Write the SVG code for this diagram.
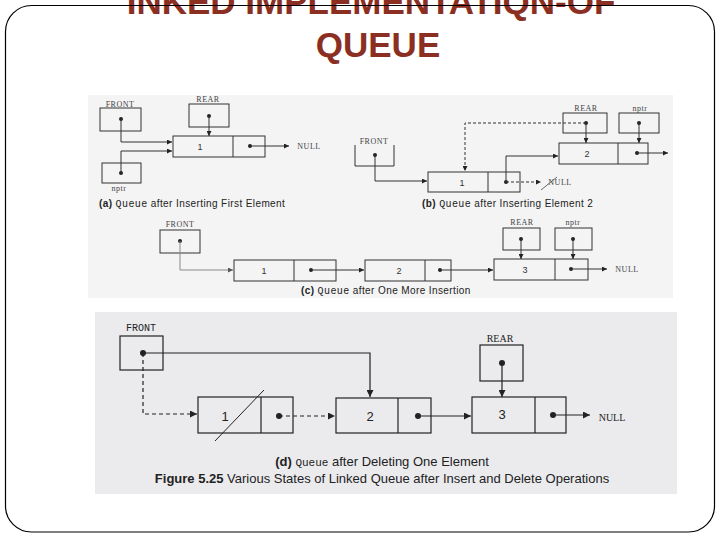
<svg xmlns="http://www.w3.org/2000/svg" width="720" height="540" viewBox="0 0 720 540">
<defs>
<marker id="ah" viewBox="0 0 10 10" refX="10" refY="5" markerWidth="6" markerHeight="5" markerUnits="userSpaceOnUse" orient="auto"><path d="M0,0 L10,5 L0,10 z" fill="#222"/></marker>
<marker id="ahg" viewBox="0 0 10 10" refX="10" refY="5" markerWidth="6" markerHeight="5" markerUnits="userSpaceOnUse" orient="auto"><path d="M0,0 L10,5 L0,10 z" fill="#555"/></marker>
<marker id="ahb" viewBox="0 0 10 10" refX="10" refY="5" markerWidth="8" markerHeight="7" markerUnits="userSpaceOnUse" orient="auto"><path d="M0,0 L10,5 L0,10 z" fill="#222"/></marker>
</defs>
<style>
.title{font-family:"Liberation Sans",Arial,sans-serif;font-weight:bold;font-size:35px;fill:#8B2F23;text-anchor:middle}
.box{fill:none;stroke:#333;stroke-width:1}
.boxd{fill:none;stroke:#222;stroke-width:1.2}
.ln{fill:none;stroke:#333;stroke-width:1;marker-end:url(#ah)}
.lnd{fill:none;stroke:#333;stroke-width:1;stroke-dasharray:3,2;marker-end:url(#ah)}
.lnb{fill:none;stroke:#222;stroke-width:1.2;marker-end:url(#ahb)}
.lnbd{fill:none;stroke:#222;stroke-width:1.2;stroke-dasharray:4,3;marker-end:url(#ahb)}
.dot{fill:#222}
.lbl{font-family:"Liberation Serif",serif;font-size:8px;fill:#444;text-anchor:middle;letter-spacing:0.5px}
.num{font-family:"Liberation Sans",Arial,sans-serif;font-size:9px;fill:#333;text-anchor:middle}
.numd{font-family:"Liberation Sans",Arial,sans-serif;font-size:13px;fill:#222;text-anchor:middle}
.lbld{font-family:"Liberation Mono",monospace;font-size:10px;fill:#222;text-anchor:middle}
.lbls{font-family:"Liberation Serif",serif;font-size:10px;fill:#222;text-anchor:middle}
.cap{font-family:"Liberation Sans",Arial,sans-serif;font-size:10px;fill:#222;letter-spacing:0.4px}
.capd{font-family:"Liberation Sans",Arial,sans-serif;font-size:13px;fill:#222;text-anchor:middle}
.mono{font-family:"Liberation Mono",monospace}
</style>
<rect x="0" y="0" width="720" height="540" fill="#fff"/>
<text class="title" x="371" y="14">INKED IMPLEMENTATIQN-OF</text>
<text class="title" x="378" y="57">QUEUE</text>
<rect x="5.5" y="5.5" width="709" height="526.5" rx="26" ry="26" fill="none" stroke="#000" stroke-width="1.2"/>
<rect x="88" y="95" width="585" height="203" fill="#f4f4f4"/>
<rect x="95" y="312" width="582" height="182" fill="#ebebee"/>

<g id="panel-a">
<g id="a-front"><text class="lbl" x="120" y="107">FRONT</text><rect class="box" x="100" y="108" width="41" height="23"/><circle class="dot" cx="121" cy="119" r="2"/></g>
<g id="a-rear"><text class="lbl" x="208" y="102">REAR</text><rect class="box" x="189" y="104" width="40" height="23"/><circle class="dot" cx="209" cy="116" r="2"/></g>
<g id="a-nptr"><rect class="box" x="102" y="163" width="39" height="20"/><circle class="dot" cx="121" cy="173" r="2"/><text class="lbl" x="119" y="191">nptr</text></g>
<g id="a-node1"><rect class="box" x="173" y="136" width="92" height="21"/><line x1="233" y1="136" x2="233" y2="157" stroke="#333"/><text class="num" x="200" y="150">1</text><circle class="dot" cx="250" cy="146" r="2"/></g>
<g id="a-null"><text class="lbl" x="309" y="149">NULL</text></g>
<text class="cap" x="99" y="207"><tspan font-weight="bold">(a)</tspan> <tspan class="mono">Queue</tspan> after Inserting First Element</text>
</g>

<g id="panel-b">
<g id="b-front"><text class="lbl" x="374" y="144">FRONT</text><path class="box" d="M355,145 V166 H394 V145"/><circle class="dot" cx="375" cy="155" r="2"/></g>
<g id="b-rear"><text class="lbl" x="586" y="111">REAR</text><rect class="box" x="563" y="113" width="44" height="20"/><circle class="dot" cx="586" cy="123" r="2"/></g>
<g id="b-nptr"><text class="lbl" x="640" y="111">nptr</text><rect class="box" x="619" y="113" width="40" height="20"/><circle class="dot" cx="639" cy="123" r="2"/></g>
<g id="b-node1"><rect class="box" x="428" y="172" width="92" height="20"/><line x1="488" y1="172" x2="488" y2="192" stroke="#333"/><text class="num" x="462" y="186">1</text><circle class="dot" cx="506" cy="182" r="2"/></g>
<g id="b-node2"><rect class="box" x="559" y="143" width="89" height="21"/><line x1="618" y1="143" x2="618" y2="164" stroke="#333"/><text class="num" x="587" y="157">2</text><circle class="dot" cx="637" cy="153" r="2"/></g>
<g id="b-null"><text class="lbl" x="560" y="185">NULL</text><line x1="541" y1="190" x2="557" y2="177" stroke="#444" stroke-width="0.8"/></g>
<text class="cap" x="422" y="207"><tspan font-weight="bold">(b)</tspan> <tspan class="mono">Queue</tspan> after Inserting Element 2</text>
</g>

<g id="panel-c">
<g id="c-front"><text class="lbl" x="180" y="227">FRONT</text><rect class="box" x="160" y="230" width="40" height="23"/><circle class="dot" cx="180" cy="241" r="2"/></g>
<g id="c-rear"><text class="lbl" x="522" y="225">REAR</text><rect class="box" x="503" y="228" width="37" height="22"/><circle class="dot" cx="521" cy="239" r="2"/></g>
<g id="c-nptr"><text class="lbl" x="573" y="225">nptr</text><rect class="box" x="555" y="228" width="37" height="22"/><circle class="dot" cx="573" cy="239" r="2"/></g>
<g id="c-node1"><rect class="box" x="234" y="260" width="102" height="21"/><line x1="294" y1="260" x2="294" y2="281" stroke="#333"/><text class="num" x="264" y="274">1</text><circle class="dot" cx="311" cy="270" r="2"/></g>
<g id="c-node2"><rect class="box" x="365" y="260" width="86" height="21"/><line x1="425" y1="260" x2="425" y2="281" stroke="#333"/><text class="num" x="399" y="274">2</text><circle class="dot" cx="440" cy="270" r="2"/></g>
<g id="c-node3"><rect class="box" x="494" y="259" width="94" height="21"/><line x1="555" y1="259" x2="555" y2="280" stroke="#333"/><text class="num" x="525" y="273">3</text><circle class="dot" cx="571" cy="269" r="2"/></g>
<g id="c-null"><text class="lbl" x="627" y="272">NULL</text></g>
<text class="cap" x="301" y="294"><tspan font-weight="bold">(c)</tspan> <tspan class="mono">Queue</tspan> after One More Insertion</text>
</g>

<g id="panel-d">
<g id="d-front"><text class="lbld" x="141" y="331">FRONT</text><rect class="boxd" x="120" y="336" width="43" height="34"/><circle class="dot" cx="143" cy="353" r="3"/></g>
<g id="d-rear"><text class="lbls" x="500" y="342">REAR</text><rect class="boxd" x="480" y="345" width="43" height="36"/><circle class="dot" cx="502" cy="363" r="3"/></g>
<g id="d-node1"><rect class="boxd" x="198" y="397" width="95" height="36"/><line x1="261" y1="397" x2="261" y2="433" stroke="#222" stroke-width="1.2"/><text class="numd" x="225" y="421">1</text><circle class="dot" cx="279" cy="416" r="3"/><line x1="215" y1="441" x2="264" y2="390" stroke="#222" stroke-width="1"/></g>
<g id="d-node2"><rect class="boxd" x="336" y="398" width="95" height="35"/><line x1="398" y1="398" x2="398" y2="433" stroke="#222" stroke-width="1.2"/><text class="numd" x="370" y="421">2</text><circle class="dot" cx="418" cy="416" r="3"/></g>
<g id="d-node3"><rect class="boxd" x="472" y="397" width="94" height="36"/><line x1="535" y1="397" x2="535" y2="433" stroke="#222" stroke-width="1.2"/><text class="numd" x="502" y="419">3</text><circle class="dot" cx="553" cy="415" r="3"/></g>
<g id="d-null"><text class="lbls" x="612" y="421">NULL</text></g>
<text class="capd" x="382" y="466"><tspan font-weight="bold">(d)</tspan> <tspan class="mono" font-size="11">Queue</tspan> after Deleting One Element</text>
<text class="capd" x="382" y="483"><tspan font-weight="bold">Figure 5.25</tspan> Various States of Linked Queue after Insert and Delete Operations</text>
</g>

<g id="connectors">
<path class="ln" d="M121,119 V142 H172"/>
<path class="ln" d="M121,173 V151 H172"/>
<path class="ln" d="M209,116 V136"/>
<path class="ln" d="M250,146 H289"/>
<path class="ln" d="M375,155 V181 H427"/>
<path class="lnd" d="M506,182 H541"/>
<path class="ln" d="M506,182 V156 H558"/>
<path class="ln" d="M586,123 V143"/>
<path class="lnd" d="M586,123 H465 V171"/>
<path class="ln" d="M639,123 V143"/>
<path class="ln" d="M637,153 H668"/>
<path d="M180,241 V270 H233" fill="none" stroke="#888" stroke-width="1" marker-end="url(#ahg)"/>
<path class="ln" d="M311,270 H364"/>
<path class="ln" d="M440,270 H493"/>
<path class="ln" d="M521,239 V259"/>
<path class="ln" d="M573,239 V259"/>
<path class="ln" d="M571,269 H607"/>
<path class="lnb" d="M143,353 H370 V397"/>
<path class="lnbd" d="M143,353 V414 H197"/>
<path class="lnbd" d="M279,416 H335"/>
<path class="lnb" d="M418,416 H471"/>
<path class="lnb" d="M502,363 V397"/>
<path class="lnb" d="M553,415 H590"/>
</g>
</svg>
